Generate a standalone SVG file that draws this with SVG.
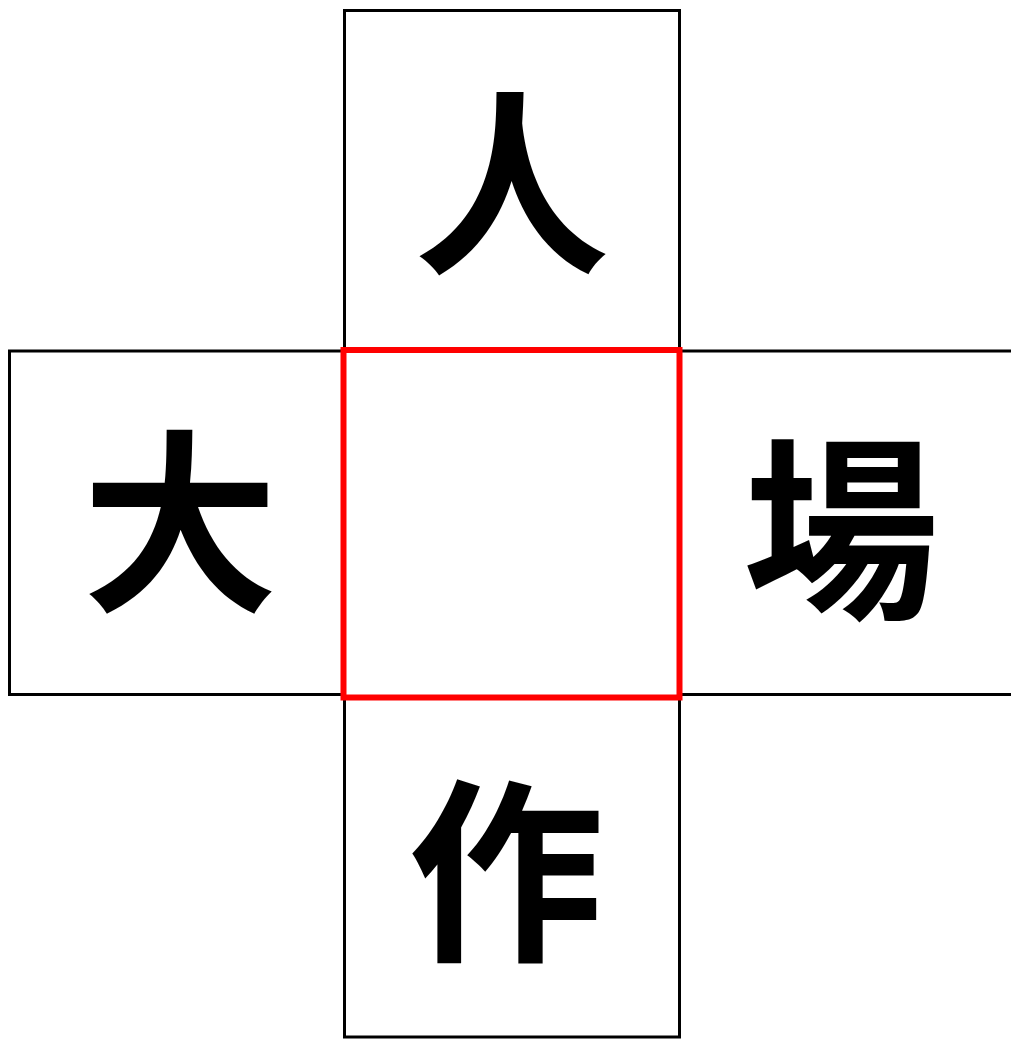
<svg xmlns="http://www.w3.org/2000/svg" width="1011" height="1040" viewBox="0 0 1011 1040">
<style>
.box{fill:none;stroke:#000;stroke-width:3}
.sel{fill:none;stroke:#ff0000;stroke-width:6}
.ch{font-family:"Noto Sans CJK TC","Noto Sans CJK SC",sans-serif;font-size:196px;font-weight:700;fill:#000;text-anchor:middle}
</style>
<rect width="1011" height="1040" fill="#fff"/>
<g id="top">
<rect class="box" x="344.5" y="10.5" width="335" height="340"/>
<text class="ch" x="512" y="258">人</text>
</g>
<g id="left">
<rect class="box" x="9.5" y="351" width="335" height="343.5"/>
<text class="ch" x="180" y="596">大</text>
</g>
<g id="right">
<rect class="box" x="679.5" y="351" width="340" height="343.5"/>
<text class="ch" x="841" y="603">場</text>
</g>
<g id="bottom">
<rect class="box" x="344.5" y="697" width="335" height="340"/>
<text class="ch" x="506" y="945">作</text>
</g>
<g id="center">
<rect class="sel" x="343.5" y="350" width="336" height="347.5"/>
</g>
<g id="connectors"></g>
</svg>
